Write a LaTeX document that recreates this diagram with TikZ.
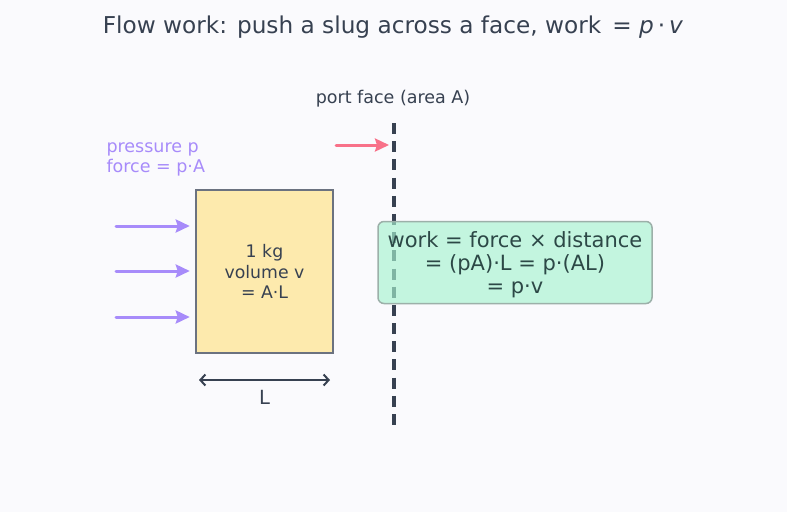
\documentclass[tikz,border=0pt]{standalone}
\usepackage{fontspec}
\setmainfont{DejaVu Sans}
\usetikzlibrary{arrows.meta,positioning}
\definecolor{bgc}{HTML}{FAFAFD}
\definecolor{ink}{HTML}{374151}
\definecolor{slugfill}{HTML}{FDEAAD}
\definecolor{sluglin}{HTML}{6B7280}
\definecolor{pushc}{HTML}{A78BFA}
\definecolor{facec}{HTML}{F87189}
\definecolor{workfill}{HTML}{A7F3D0}
\definecolor{workline}{HTML}{9CB0A9}
\definecolor{worktext}{HTML}{2C4846}
\newcommand{\fs}[2]{\fontsize{#1}{#2}\selectfont}

\begin{document}
\begin{tikzpicture}[x=1pt,y=-1pt,
	push/.style={draw=pushc, line width=3pt, -{Stealth[length=14pt,width=13pt,inset=2pt]}, line cap=round},
	slugbox/.style={draw=sluglin, fill=slugfill, line width=2.5pt, minimum width=137pt, minimum height=163pt, align=center, text=ink, font=\fs{17.3}{20.5}, inner sep=0pt},
	workbox/.style={draw=workline, fill=workfill, fill opacity=0.65, text opacity=1, line width=1.5pt, rounded corners=6pt, minimum width=274pt, minimum height=82pt, align=center, text=worktext, font=\fs{21}{23}, inner sep=0pt}]
	%%%%% background and title %%%%%
	\useasboundingbox[fill=bgc] (0,0) rectangle (787,512);
	\node[text=ink, font=\fs{23.2}{26}] (title) at (393,27) {Flow work: push a slug across a face, work \,= \textit{p}\,·\,\textit{v}};
	
	%%%%% port face %%%%%
	\node[text=ink, font=\fs{17.5}{20}] (facelbl) at (393,99) {port face (area A)};
	\coordinate (ftop) at (394,123);
	\coordinate (fbot) at (394,425);
	\draw[ink, line width=3.3pt, dash pattern=on 11pt off 7.19pt] (ftop) -- (fbot);
	\coordinate (fpush) at (336,145);
	\draw[push, draw=facec, shorten >=5pt] (fpush) -- (fpush -| ftop);
	
	%%%%% slug %%%%%
	\node[text=pushc, font=\fs{17.5}{20}, align=left, anchor=west] (plbl) at (103,159) {pressure p\\force = p·A};
	\node[slugbox] (slug) at (264.5,271.5) {1 kg\\volume v\\= A·L};
	\foreach \yy/\nm in {226/pa,271/pb,317/pc}{
		\coordinate (\nm) at (116,\yy);
		\draw[push, shorten >=5pt] (\nm) -- (\nm -| slug.west);
	}
	\coordinate (Lleft) at (199,380);
	\coordinate (Lright) at (330,380);
	\draw[ink, line width=2pt, {Straight Barb[length=5pt,width=11pt]}-{Straight Barb[length=5pt,width=11pt]}] (Lleft) -- (Lright);
	\node[text=ink, font=\fs{19.5}{22}] (Llbl) at (264.5,397) {L};
	
	%%%%% result %%%%%
	\node[workbox] (work) at (515,262.5) {\\[-2pt]work = force × distance\\= (pA)·L = p·(AL)\\= p·v};
\end{tikzpicture}
\end{document}
